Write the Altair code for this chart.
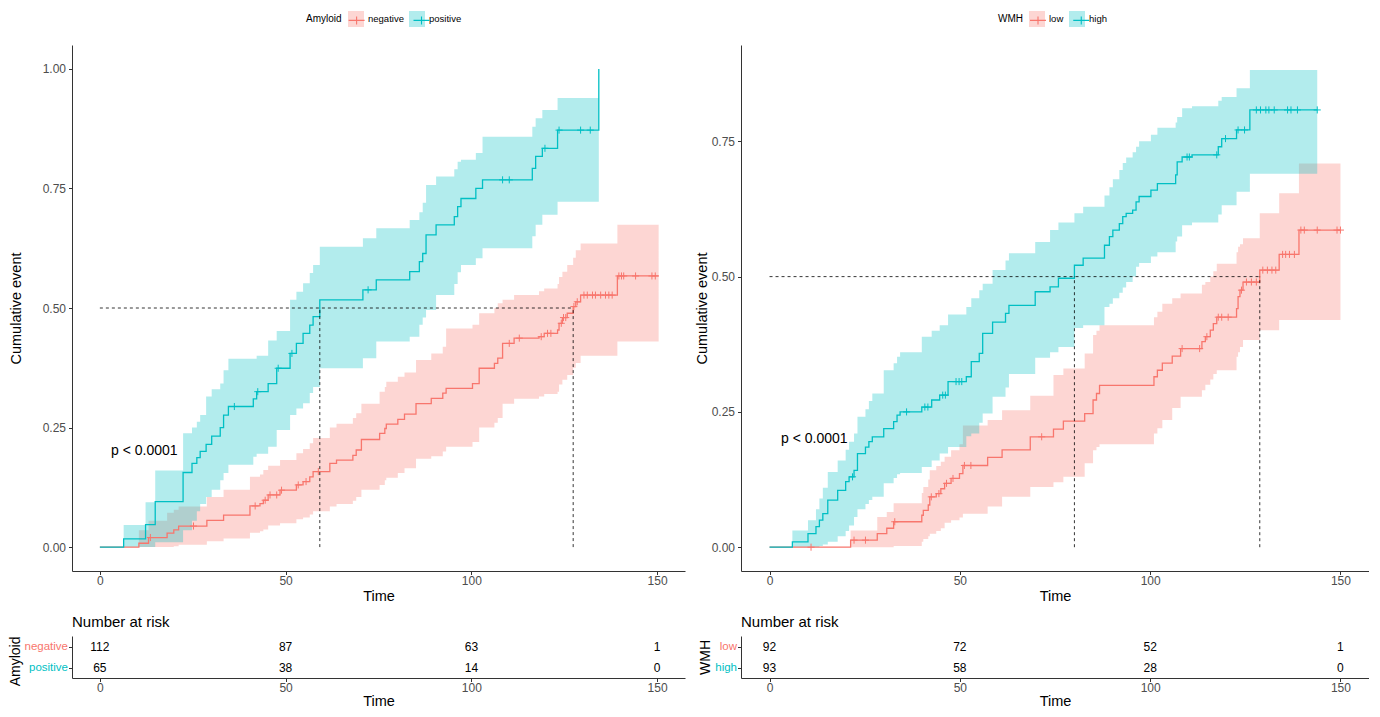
import altair as alt
import pandas as pd

FONT = "Liberation Sans"
SAL = "#F8766D"
TEAL = "#00BFC4"
ZW = "\u200b"

# ---------------- Panel 1: Amyloid ----------------
amy_groups = ["negative", "positive"]

amy_neg_time = [0, 10.5, 13.1, 18.1, 19.9, 21.2, 28.8, 33.3, 40.4, 43.1, 44.0, 45.3, 48.5, 52.9, 54.7, 56.5,
                57.4, 61.9, 63.7, 68.1, 69.0, 70.4, 75.3, 76.7, 77.1, 80.2, 82.0, 85.1, 89.2, 92.3, 93.2, 100.3,
                102.1, 106.2, 107.1, 108.4, 111.5, 118.2, 119.6, 123.2, 123.6, 124.5, 125.8, 127.4, 128.1, 129.4,
                139.3, 150.4]
amy_neg_est = [0, 0.008, 0.020, 0.029, 0.036, 0.044, 0.056, 0.067, 0.086, 0.091, 0.098, 0.109, 0.119, 0.130,
               0.137, 0.147, 0.158, 0.175, 0.182, 0.192, 0.203, 0.225, 0.238, 0.248, 0.257, 0.267, 0.278, 0.300,
               0.311, 0.322, 0.332, 0.342, 0.374, 0.384, 0.395, 0.426, 0.437, 0.440, 0.447, 0.454, 0.468, 0.480,
               0.489, 0.503, 0.513, 0.527, 0.567, 0.567]
amy_neg_lo = [0, 0, 0, 0, 0.002, 0.005, 0.012, 0.018, 0.030, 0.033, 0.037, 0.045, 0.050, 0.058, 0.062, 0.068,
              0.075, 0.085, 0.090, 0.097, 0.105, 0.120, 0.130, 0.140, 0.145, 0.155, 0.165, 0.185, 0.190, 0.200,
              0.210, 0.220, 0.250, 0.260, 0.270, 0.300, 0.310, 0.315, 0.320, 0.325, 0.340, 0.350, 0.360, 0.375,
              0.385, 0.400, 0.430, 0.430]
amy_neg_hi = [0, 0.035, 0.055, 0.072, 0.078, 0.085, 0.105, 0.120, 0.147, 0.152, 0.161, 0.170, 0.182, 0.196,
              0.205, 0.217, 0.228, 0.250, 0.258, 0.270, 0.280, 0.300, 0.325, 0.335, 0.346, 0.356, 0.365, 0.391,
              0.405, 0.419, 0.457, 0.465, 0.489, 0.500, 0.510, 0.517, 0.527, 0.535, 0.541, 0.550, 0.565, 0.576,
              0.590, 0.605, 0.621, 0.635, 0.674, 0.674]
amy_neg_cens = [13.6, 25.2, 41.8, 44.5, 45.8, 47.6, 48.9, 53.4, 55.5, 58.8, 110.2, 112.9, 118.8, 120.5, 121.4,
                124.2, 124.8, 125.4, 127.6, 128.5, 130.3, 131.2, 132.6, 133.4, 134.8, 136.1, 137.0, 137.9,
                139.7, 140.4, 141.0, 144.2, 148.6, 149.5]

amy_pos_time = [0, 6.4, 12.3, 14.9, 22.4, 24.8, 26.1, 27.0, 28.6, 30.1, 32.4, 33.3, 34.6, 41.3, 42.2, 45.3,
                47.6, 51.2, 52.9, 54.7, 56.5, 57.4, 59.2, 70.8, 74.4, 83.4, 86.0, 86.9, 87.8, 90.5, 95.4, 96.3,
                97.2, 101.2, 103.0, 116.4, 117.3, 119.1, 123.2, 134.3]
amy_pos_est = [0, 0.017, 0.047, 0.095, 0.156, 0.175, 0.187, 0.200, 0.215, 0.232, 0.250, 0.276, 0.294, 0.310,
               0.325, 0.342, 0.374, 0.405, 0.426, 0.447, 0.464, 0.482, 0.517, 0.538, 0.559, 0.576, 0.597, 0.614,
               0.653, 0.674, 0.691, 0.712, 0.729, 0.750, 0.768, 0.792, 0.817, 0.834, 0.872, 1.000]
amy_pos_lo = [0, 0, 0, 0.010, 0.035, 0.055, 0.075, 0.090, 0.105, 0.120, 0.140, 0.155, 0.172, 0.189, 0.195,
              0.210, 0.245, 0.276, 0.290, 0.301, 0.322, 0.335, 0.374, 0.395, 0.430, 0.440, 0.465, 0.480, 0.496,
              0.527, 0.550, 0.575, 0.590, 0.604, 0.625, 0.650, 0.674, 0.695, 0.722, 0.722]
amy_pos_hi = [0, 0.046, 0.094, 0.160, 0.238, 0.250, 0.262, 0.276, 0.315, 0.330, 0.342, 0.370, 0.394, 0.394,
              0.400, 0.432, 0.452, 0.517, 0.534, 0.552, 0.573, 0.590, 0.628, 0.646, 0.667, 0.684, 0.700, 0.720,
              0.757, 0.775, 0.790, 0.806, 0.810, 0.824, 0.858, 0.879, 0.897, 0.914, 0.939, 0.939]
amy_pos_cens = [36.2, 42.5, 48.0, 51.7, 72.2, 108.4, 110.2, 119.8, 123.6, 129.4, 132.0]

amy_median = [59.2, 127.4]
amy_risk_neg = [112, 87, 63, 1]
amy_risk_pos = [65, 38, 14, 0]

# ---------------- Panel 2: WMH ----------------
wmh_groups = ["low", "high"]

wmh_low_time = [0, 21.3, 28.3, 30.8, 32.6, 40.0, 40.4, 41.7, 42.1, 43.8, 45.0, 46.0, 47.7, 49.9, 50.8, 57.3,
                61.1, 68.5, 74.6, 77.2, 82.8, 85.0, 85.9, 86.7, 101.0, 101.9, 103.2, 105.8, 108.0, 113.6, 114.5,
                115.8, 116.6, 117.5, 122.7, 123.1, 123.6, 124.4, 128.8, 133.9, 139.1, 150.0]
wmh_low_est = [0, 0.013, 0.025, 0.035, 0.047, 0.059, 0.068, 0.078, 0.093, 0.099, 0.108, 0.118, 0.127, 0.136,
               0.151, 0.166, 0.180, 0.204, 0.218, 0.233, 0.247, 0.272, 0.284, 0.299, 0.315, 0.327, 0.340, 0.353,
               0.367, 0.380, 0.389, 0.401, 0.413, 0.425, 0.441, 0.463, 0.475, 0.490, 0.512, 0.541, 0.586, 0.586]
wmh_low_lo = [0, 0, 0, 0, 0.002, 0.010, 0.015, 0.020, 0.025, 0.030, 0.035, 0.045, 0.050, 0.055, 0.062, 0.075,
              0.093, 0.111, 0.120, 0.130, 0.155, 0.179, 0.185, 0.190, 0.210, 0.220, 0.235, 0.257, 0.278, 0.290,
              0.300, 0.310, 0.320, 0.327, 0.352, 0.360, 0.370, 0.383, 0.401, 0.420, 0.420, 0.420]
wmh_low_hi = [0, 0.031, 0.056, 0.065, 0.081, 0.100, 0.111, 0.125, 0.142, 0.150, 0.158, 0.167, 0.179, 0.190,
              0.225, 0.235, 0.253, 0.280, 0.318, 0.330, 0.358, 0.392, 0.400, 0.410, 0.425, 0.435, 0.450, 0.460,
              0.469, 0.485, 0.490, 0.500, 0.510, 0.524, 0.545, 0.555, 0.560, 0.571, 0.617, 0.654, 0.709, 0.709]
wmh_low_cens = [10.9, 22.2, 25.2, 32.9, 42.5, 44.5, 46.5, 48.2, 51.2, 52.9, 71.5, 108.4, 113.0, 114.9, 117.9,
                118.8, 120.5, 124.0, 125.3, 126.6, 127.9, 129.6, 130.8, 132.0, 133.0, 134.8, 135.6, 136.6,
                137.9, 139.6, 140.5, 143.9, 149.1, 150.0]

wmh_high_time = [0, 6.0, 10.1, 12.2, 13.1, 14.0, 15.3, 17.9, 20.0, 20.9, 22.2, 23.1, 25.2, 26.1, 27.0, 30.0,
                 32.6, 33.5, 34.3, 40.0, 42.6, 44.7, 46.9, 51.7, 53.0, 55.1, 56.0, 58.6, 62.0, 62.9, 69.8, 73.7,
                 75.9, 80.1, 82.4, 88.0, 89.3, 90.2, 91.9, 92.8, 93.7, 95.4, 96.3, 97.1, 100.2, 101.9, 106.7,
                 107.1, 108.4, 111.0, 117.9, 118.8, 122.7, 126.2, 143.9]
wmh_high_est = [0, 0.010, 0.025, 0.038, 0.050, 0.062, 0.087, 0.105, 0.121, 0.130, 0.142, 0.173, 0.185, 0.195,
                0.204, 0.219, 0.232, 0.244, 0.250, 0.259, 0.272, 0.281, 0.306, 0.315, 0.343, 0.358, 0.395, 0.416,
                0.432, 0.447, 0.472, 0.481, 0.497, 0.521, 0.534, 0.558, 0.574, 0.586, 0.598, 0.611, 0.617, 0.623,
                0.638, 0.648, 0.660, 0.672, 0.688, 0.712, 0.721, 0.725, 0.740, 0.755, 0.771, 0.808, 0.808]
wmh_high_lo = [0, 0, 0, 0, 0.002, 0.005, 0.010, 0.020, 0.030, 0.040, 0.056, 0.070, 0.080, 0.087, 0.093, 0.118,
               0.128, 0.135, 0.137, 0.148, 0.160, 0.173, 0.185, 0.205, 0.210, 0.230, 0.247, 0.278, 0.295, 0.320,
               0.350, 0.360, 0.370, 0.405, 0.410, 0.444, 0.450, 0.460, 0.470, 0.480, 0.490, 0.500, 0.518, 0.525,
               0.537, 0.545, 0.565, 0.574, 0.595, 0.600, 0.615, 0.632, 0.657, 0.690, 0.690]
wmh_high_hi = [0, 0.031, 0.050, 0.070, 0.090, 0.110, 0.139, 0.160, 0.180, 0.195, 0.210, 0.241, 0.255, 0.270,
               0.284, 0.327, 0.340, 0.352, 0.360, 0.389, 0.400, 0.410, 0.430, 0.444, 0.460, 0.475, 0.487, 0.512,
               0.530, 0.543, 0.564, 0.586, 0.600, 0.617, 0.629, 0.650, 0.665, 0.680, 0.697, 0.710, 0.720, 0.730,
               0.740, 0.750, 0.762, 0.775, 0.785, 0.795, 0.811, 0.815, 0.825, 0.832, 0.848, 0.882, 0.882]
wmh_high_cens = [21.8, 36.0, 40.8, 41.6, 45.5, 46.2, 49.0, 49.8, 50.5, 109.7, 110.3, 117.5, 119.8, 123.1,
                 124.8, 127.9, 129.0, 130.4, 131.2, 132.6, 136.1, 137.0, 138.7, 143.9]

wmh_median = [80.1, 128.8]
wmh_risk_low = [92, 72, 52, 1]
wmh_risk_high = [93, 58, 28, 0]

risk_times = [0, 50, 100, 150]
x_ticks = [0, 50, 100, 150]
p_label = "p < 0.0001"


def km_value(times, est, t):
    v = est[0]
    for ti, ei in zip(times, est):
        if ti <= t:
            v = ei
    return v


def panel(var, groups, curves, cens, medians, risks, W, H, ydom, yvals, leg_x, ytitle_pad,
          title_w, label1_w, risk_title_anchor):
    keys = [g + ZW for g in groups]
    rows = []
    for g, k, (tt, ee, ll, hh) in zip(groups, keys, curves):
        for a, b, c, d in zip(tt, ee, ll, hh):
            rows.append({"time": a, "est": b, "lo": c, "hi": d, "group": g, "key": k})
    cdf = pd.DataFrame(rows)
    crow = []
    for g, k, (tt, ee, _, _), cc in zip(groups, keys, curves, cens):
        for t in cc:
            crow.append({"time": t, "est": km_value(tt, ee, t), "group": g, "key": k})
    cendf = pd.DataFrame(crow)

    xs = alt.Scale(domain=[-7.5, 157.5], nice=False, zero=False)
    ys = alt.Scale(domain=ydom, nice=False, zero=False)
    fs = alt.Scale(domain=groups, range=[SAL, TEAL])
    ss = alt.Scale(domain=keys, range=[SAL, TEAL])
    xaxis = alt.Axis(values=x_ticks, title="Time", labelPadding=1, titlePadding=3)
    yaxis = alt.Axis(values=yvals, format=".2f", title="Cumulative event", labelPadding=3,
                     titlePadding=ytitle_pad)

    def X(f):
        return alt.X(f, type="quantitative", scale=xs, axis=xaxis)

    def Y(f):
        return alt.Y(f, type="quantitative", scale=ys, axis=yaxis)

    col_pad = 5
    leg_fill = alt.Legend(orient="none", legendX=leg_x, legendY=-34, direction="horizontal", title=var,
                          titleOrient="left", titleFontSize=10, titleFontWeight="normal", titleColor="black",
                          labelFontSize=9.5, labelColor="black", symbolSize=256, labelOffset=4,
                          columnPadding=col_pad, titlePadding=6, labelFont=FONT, titleFont=FONT,
                          symbolType="square", symbolOpacity=0.3, symbolStrokeWidth=0)
    leg_stroke = alt.Legend(orient="none", legendX=leg_x + title_w + 6, legendY=-34, direction="horizontal",
                            title=None, labelExpr="''", labelFontSize=9.5, symbolSize=256, labelOffset=4,
                            columnPadding=col_pad + label1_w,
                            symbolType="M-1,0L1,0M0,-0.5L0,0.5", symbolStrokeWidth=1.1)

    band = alt.Chart(cdf).mark_area(interpolate="step-after", opacity=0.3).encode(
        x=X("time"), y=Y("lo"), y2="hi:Q",
        fill=alt.Fill("group:N", scale=fs, legend=leg_fill, sort=groups),
    )
    line = alt.Chart(cdf).mark_line(interpolate="step-after", strokeWidth=1.3).encode(
        x=X("time"), y=Y("est"),
        stroke=alt.Stroke("key:N", scale=ss, legend=leg_stroke, sort=keys),
    )
    cmark = alt.Chart(cendf).mark_point(shape="M-1,0L1,0M0,-1L0,1", filled=False, size=50,
                                         strokeWidth=1, opacity=1).encode(
        x=X("time"), y=Y("est"),
        stroke=alt.Stroke("key:N", scale=ss, legend=None, sort=keys),
    )
    hdf = pd.DataFrame({"x": [0], "x2": [max(medians)], "y": [0.5]})
    hr = alt.Chart(hdf).mark_rule(strokeDash=[3, 3], color="black", strokeWidth=0.8).encode(
        x=X("x"), x2="x2:Q", y=Y("y"))
    vdf = pd.DataFrame({"x": medians, "y": [0] * len(medians), "y2": [0.5] * len(medians)})
    vr = alt.Chart(vdf).mark_rule(strokeDash=[3, 3], color="black", strokeWidth=0.8).encode(
        x=X("x"), y=Y("y"), y2="y2:Q")
    pdf = pd.DataFrame({"x": [3], "y": [0.2], "label": [p_label]})
    ptxt = alt.Chart(pdf).mark_text(align="left", baseline="middle", fontSize=14, font=FONT,
                                    color="black").encode(x=X("x"), y=Y("y"), text="label:N")

    main = alt.layer(band, line, cmark, hr, vr, ptxt).properties(width=W, height=H)

    rrows = []
    for g, rr in zip(groups, risks):
        for t, n in zip(risk_times, rr):
            rrows.append({"time": t, "group": g, "n": n})
    rdf = pd.DataFrame(rrows)
    ax_extra = {"titleAnchor": "start", "titleAlign": "right"} if risk_title_anchor == "start" else {}
    risk = alt.Chart(rdf).mark_text(fontSize=12, font=FONT, color="black").encode(
        x=alt.X("time:Q", scale=xs, axis=alt.Axis(values=x_ticks, title="Time", labelPadding=1, titlePadding=1)),
        y=alt.Y("group:N", sort=groups, scale=alt.Scale(type="point", padding=0.5, domain=groups),
                axis=alt.Axis(title=var, labelPadding=1, titlePadding=2, labelFontSize=11.5, titleFontSize=14,
                              labelColor={"condition": {"test": f"datum.value === '{groups[0]}'", "value": SAL},
                                          "value": TEAL}, **ax_extra)),
        text="n:Q",
    ).properties(width=W, height=42,
                 title=alt.TitleParams("Number at risk", anchor="start", frame="group", fontSize=15,
                                       fontWeight="normal", font=FONT, color="black", offset=6))

    return alt.vconcat(main, risk, spacing=12).resolve_scale(x="independent", y="independent",
                                                             fill="independent", stroke="independent")


left = panel("Amyloid", amy_groups,
             [(amy_neg_time, amy_neg_est, amy_neg_lo, amy_neg_hi),
              (amy_pos_time, amy_pos_est, amy_pos_lo, amy_pos_hi)],
             [amy_neg_cens, amy_pos_cens], amy_median, [amy_risk_neg, amy_risk_pos],
             613, 526, [-0.05, 1.05], [0, 0.25, 0.5, 0.75, 1.0], 234, 19, 35.6, 35.9, "start")
right = panel("WMH", wmh_groups,
              [(wmh_low_time, wmh_low_est, wmh_low_lo, wmh_low_hi),
               (wmh_high_time, wmh_high_est, wmh_high_lo, wmh_high_hi)],
              [wmh_low_cens, wmh_high_cens], wmh_median, [wmh_risk_low, wmh_risk_high],
              628, 526, [-0.044, 0.928], [0, 0.25, 0.5, 0.75], 257, 2, 25.0, 14.25, "middle")

chart = alt.hconcat(left, right, spacing=9).resolve_scale(
    x="independent", y="independent", fill="independent", stroke="independent"
).properties(
    padding={"left": 0, "top": 3, "right": 0, "bottom": 0}
).configure(font=FONT).configure_axis(
    grid=False, domainColor="#333333", tickColor="#333333", labelColor="#4D4D4D", labelFont=FONT,
    titleFont=FONT, labelFontSize=12, titleFontSize=14.5, titleFontWeight="normal", titleColor="black",
    tickSize=3.5, domainWidth=1, tickWidth=1
).configure_view(stroke=None)

chart.save("out.html", embed_options={"renderer": "svg", "actions": False})
